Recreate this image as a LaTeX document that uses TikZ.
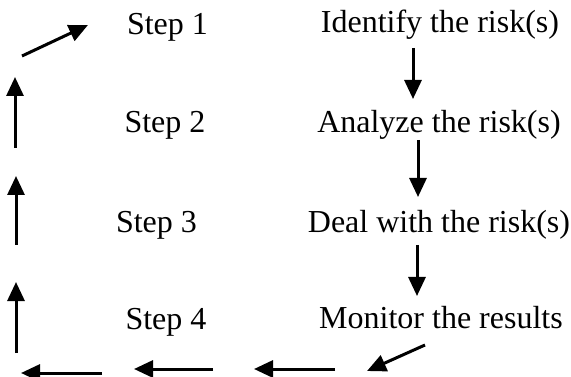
\documentclass[tikz,border=0pt]{standalone}
\usepackage{fontspec}
\setmainfont{Liberation Serif}
\usetikzlibrary{arrows.meta}
\begin{document}
\begin{tikzpicture}[x=1pt,y=-1pt,
  lbl/.style={inner sep=0pt,anchor=base,font=\fontsize{32}{35}\selectfont},
  arr/.style={line width=3pt,-{Triangle[length=19pt,width=17pt]}}]
\useasboundingbox (0,0) rectangle (571,377);
% step labels
\node[lbl] (s1) at (167.5,35) {Step 1};
\node[lbl] (s2) at (165,133) {Step 2};
\node[lbl] (s3) at (156.5,233) {Step 3};
\node[lbl] (s4) at (166,329) {Step 4};
% activity labels
\node[lbl] (t1) at (440,33) {Identify the risk(s)};
\node[lbl] (t2) at (439,133) {Analyze the risk(s)};
\node[lbl] (t3) at (439,233) {Deal with the risk(s)};
\node[lbl] (t4) at (441,328) {Monitor the results};
% coordinates for arrow ends
\coordinate (a1s) at (413,48);  \coordinate (a1e) at (413,99);
\coordinate (a2s) at (418,140); \coordinate (a2e) at (418,197);
\coordinate (a3s) at (417,245); \coordinate (a3e) at (417,296);
\coordinate (dgs) at (425,345); \coordinate (dge) at (367,371);
\coordinate (b1s) at (335,369); \coordinate (b1e) at (254,369);
\coordinate (b2s) at (213,369); \coordinate (b2e) at (134,369);
\coordinate (b3s) at (102,373); \coordinate (b3e) at (21,373);
\coordinate (l1s) at (16,353);  \coordinate (l1e) at (16,282);
\coordinate (l2s) at (16,245);  \coordinate (l2e) at (16,176);
\coordinate (l3s) at (15,148);  \coordinate (l3e) at (15,77);
\coordinate (tds) at (22,56);   \coordinate (tde) at (88,25);
% arrows
\draw[arr] (a1s) -- (a1e);
\draw[arr] (a2s) -- (a2e);
\draw[arr] (a3s) -- (a3e);
\draw[arr] (dgs) -- (dge);
\draw[arr] (b1s) -- (b1e);
\draw[arr] (b2s) -- (b2e);
\draw[arr] (b3s) -- (b3e);
\draw[arr] (l1s) -- (l1e);
\draw[arr] (l2s) -- (l2e);
\draw[arr] (l3s) -- (l3e);
\draw[arr] (tds) -- (tde);
\end{tikzpicture}
\end{document}
